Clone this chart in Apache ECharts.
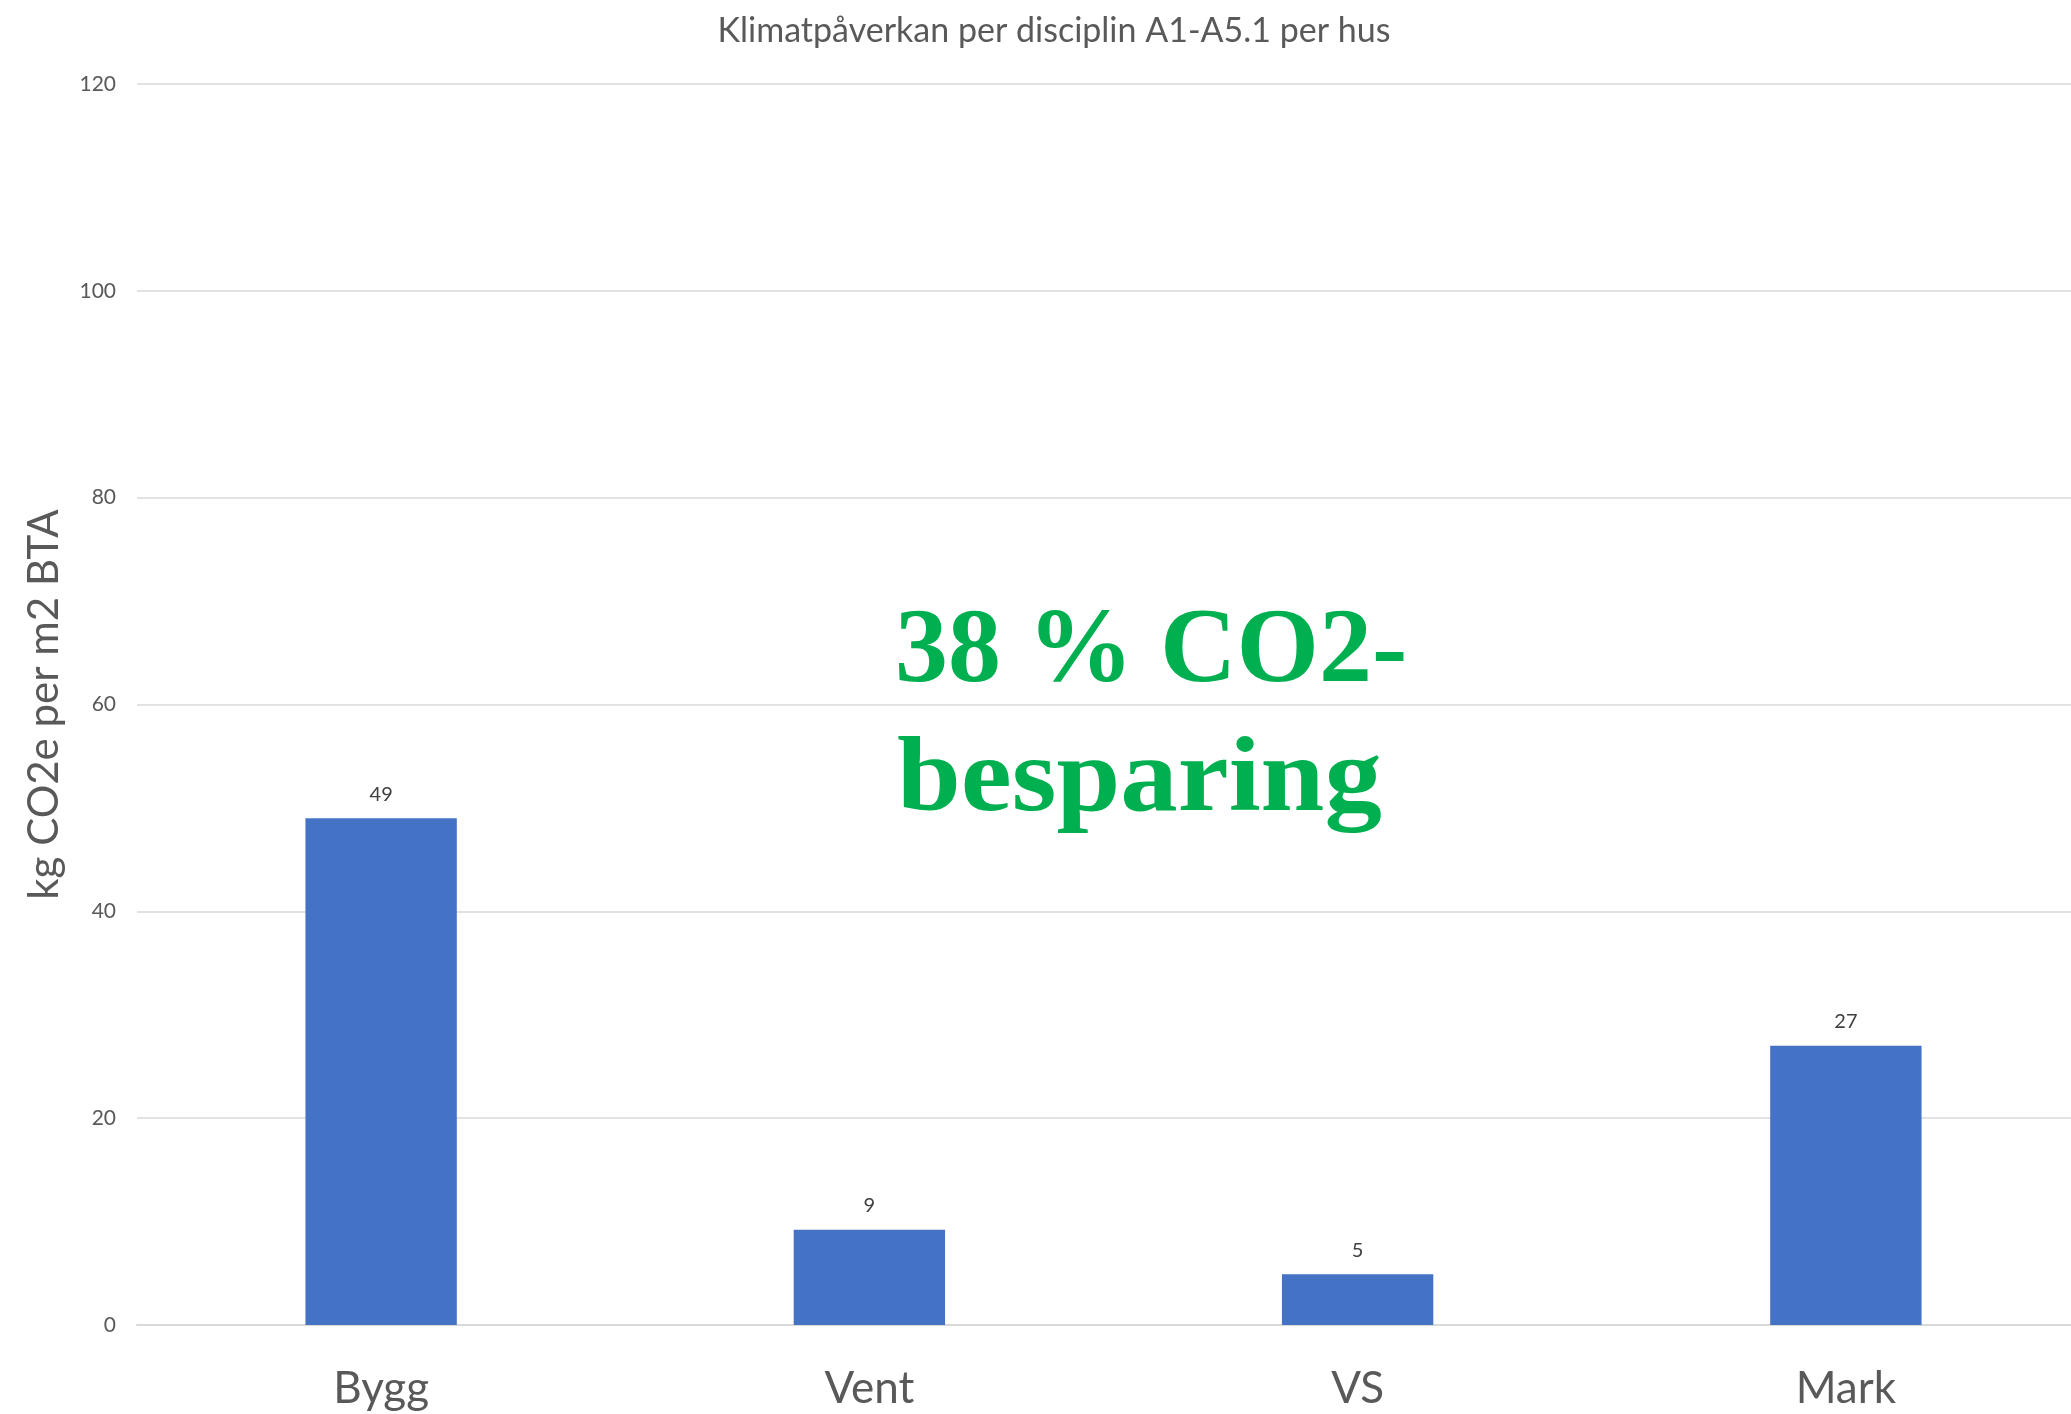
<!DOCTYPE html>
<html>
<head>
<meta charset="utf-8">
<script src="https://cdn.jsdelivr.net/npm/echarts@6/dist/echarts.min.js"></script>
<style>html,body{margin:0;padding:0;background:#fff;}#c{width:2071px;height:1414px;}</style>
</head>
<body>
<div id="c"></div>
<script>
const titleText = 'Klimatpåverkan per disciplin A1-A5.1 per hus';
const yAxisName = 'kg CO2e per m2 BTA';
const categories = ['Bygg', 'Vent', 'VS', 'Mark'];
const values = [49, 9.2, 4.9, 27];
const annotationLines = ['38 % CO2-', 'besparing'];

const chart = echarts.init(document.getElementById('c'), null, {renderer: 'canvas'});
chart.setOption({
  backgroundColor: '#ffffff',
  animation: false,
  title: {
    text: titleText,
    left: 1049, top: 9,
    textAlign: 'center',
    textStyle: {fontFamily: 'Lato', fontSize: 34, fontWeight: 'normal', color: '#595959'}
  },
  grid: {left: 137, width: 1953, top: 84, bottom: 89, containLabel: false, outerBoundsMode: 'none'},
  xAxis: {
    type: 'category',
    data: categories,
    axisLine: {show: true, lineStyle: {color: '#d9d9d9', width: 2}},
    axisTick: {show: false},
    axisLabel: {fontFamily: 'Lato', fontSize: 44, color: '#595959', margin: 42}
  },
  yAxis: {
    type: 'value',
    min: 0, max: 120, interval: 20,
    name: yAxisName,
    nameLocation: 'middle',
    nameGap: 72,
    nameRotate: 90,
    nameTextStyle: {fontFamily: 'Lato', fontSize: 42, color: '#595959'},
    axisLine: {show: false},
    axisTick: {show: false},
    axisLabel: {fontFamily: 'Lato', fontSize: 21, color: '#595959', margin: 21},
    splitLine: {lineStyle: {color: '#d9d9d9', width: 1.5}}
  },
  series: [{
    type: 'bar',
    data: values,
    barWidth: '31%',
    itemStyle: {color: '#4472C4'},
    label: {
      show: true, position: 'top', distance: 14,
      fontFamily: 'Lato', fontSize: 20, color: '#404040',
      formatter: p => Math.round(p.value)
    }
  }],
  graphic: [{
    type: 'text',
    x: 895, y: 589,
    style: {
      text: annotationLines[0],
      font: 'bold 106px "Liberation Serif"',
      lineHeight: 129,
      fill: '#00B050'
    }
  }, {
    type: 'text',
    x: 897, y: 718,
    scaleX: 1.083,
    style: {
      text: annotationLines[1],
      font: 'bold 106px "Liberation Serif"',
      lineHeight: 129,
      fill: '#00B050'
    }
  }]
});
</script>
</body>
</html>
